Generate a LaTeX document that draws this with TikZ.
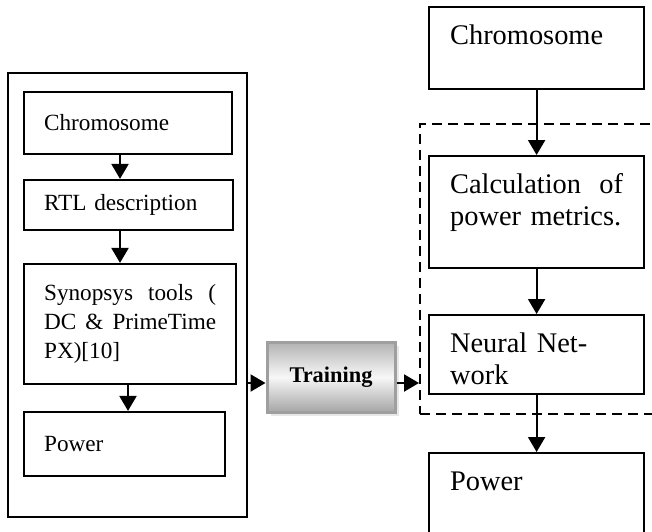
\documentclass[tikz,border=0pt]{standalone}
\usepackage{fontspec}
\setmainfont{Liberation Serif}
\usepackage{tikz}
\usetikzlibrary{arrows.meta,shadows}

\begin{document}
\begin{tikzpicture}[x=0.5pt,y=-0.5pt]
\tikzstyle{lbox}=[rectangle,draw,line width=1.1pt,inner xsep=10pt,inner ysep=0pt,align=left,anchor=west,font=\fontsize{11.6}{14.5}\selectfont]
\tikzstyle{rbox}=[rectangle,draw,line width=1.1pt,inner xsep=10.5pt,inner ysep=9pt,text width=86.5pt,text height=9.5pt,align=left,anchor=north west,font=\fontsize{14.2}{16}\selectfont]
\tikzstyle{arr}=[-{Triangle[width=8.5pt,length=7.5pt]},line width=1.1pt]
\useasboundingbox (0,0) rectangle (652,531);

% Simulation flow (left)
\node (outer) [draw,line width=1.1pt,inner sep=0pt,minimum width=119.5pt,minimum height=222pt] at (127.5,295) {};
\node (ch1) [lbox,text width=84pt,minimum height=31pt] at (23,123) {Chromosome};
\node (rtl) [lbox,text width=84.5pt,minimum height=25pt] at (23,205) {RTL description};
\node (syn) [lbox,text width=86pt,minimum height=60pt] at (23,324) {Synopsys\hfill tools\hfill (\\DC\hfill \&\hfill PrimeTime\\PX)[10]};
\node (pw1) [lbox,text width=80.5pt,minimum height=32pt] at (23,444) {Power};

% Training step
\node (train) [draw=gray!75,line width=1.5pt,top color=gray!60,bottom color=gray!70,middle color=gray!6,drop shadow={shadow xshift=2pt,shadow yshift=-2pt,fill=gray!35},minimum width=64pt,minimum height=35pt,font=\fontsize{11.2}{13}\selectfont\bfseries] at (331,377) {Training};

% Estimation flow (right)
\node (frame) [draw,line width=1.1pt,dash pattern=on 5pt off 3pt,inner sep=0pt,anchor=north west,minimum width=125pt,minimum height=145pt] at (419,123) {};
\node (ch2) [rbox,text depth=13.5pt] at (428,6) {Chromosome};
\node (calc) [rbox,text depth=28.5pt] at (428,155) {Calculation\hfill of\\power metrics.};
\node (nn) [rbox,text depth=12pt] at (428,314) {Neural Net-\\work};
\node (pw2) [rbox,text depth=16pt] at (428,452) {Power};

\coordinate (la) at (120,0);
\coordinate (lb) at (128,0);
\coordinate (ta) at (0,383);

\draw[arr] (ch1.south -| la) -- (rtl.north -| la);
\draw[arr] (rtl.south -| la) -- (syn.north -| la);
\draw[arr] (syn.south -| lb) -- (pw1.north -| lb);
\draw[arr] (outer.east |- ta) -- (train.west |- ta);
\draw[arr] (train.east |- ta) -- (frame.west |- ta);
\draw[arr] (ch2.south) -- (calc.north);
\draw[arr] (calc.south) -- (nn.north);
\draw[arr] (nn.south) -- (pw2.north);

\end{tikzpicture}
\end{document}
